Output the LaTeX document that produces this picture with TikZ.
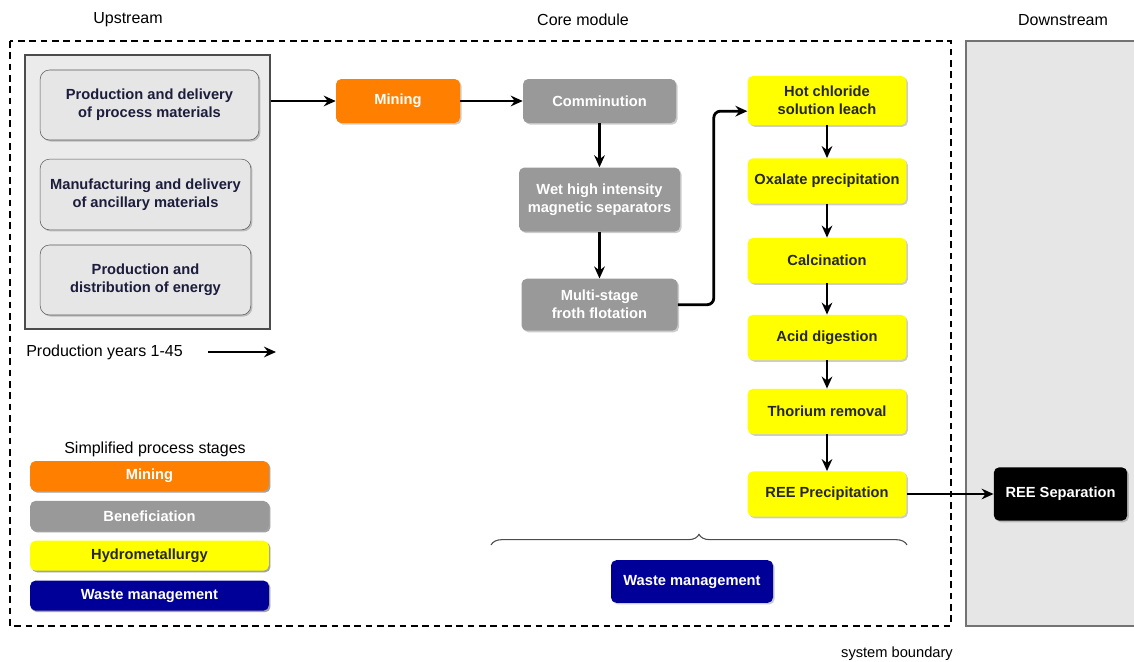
\documentclass[tikz,border=0pt]{standalone}
\usepackage{fontspec}
\setmainfont{Liberation Sans}
\usetikzlibrary{positioning,arrows.meta,shadows,decorations.pathreplacing}
\definecolor{minorange}{RGB}{255,128,0}
\definecolor{benegray}{RGB}{153,153,153}
\definecolor{hydroyellow}{RGB}{255,255,0}
\definecolor{wastenavy}{RGB}{0,0,153}
\definecolor{panelgray}{RGB}{230,230,230}
\definecolor{inktext}{RGB}{28,28,60}

\begin{document}
\begin{tikzpicture}[x=0.75pt,y=-0.75pt,node distance=25pt,
    every node/.style={font=\fontsize{11}{13.5}\selectfont},
    stage/.style={rounded corners=4pt,align=center,font=\fontsize{11}{13.5}\selectfont\bfseries,
      drop shadow={shadow xshift=1.2pt,shadow yshift=-1.2pt,fill=black,opacity=0.2}},
    mine/.style={stage,fill=minorange,text=white},
    bene/.style={stage,fill=benegray,text=white},
    hydro/.style={stage,fill=hydroyellow,text=black!85,minimum width=119pt,minimum height=34pt},
    waste/.style={stage,fill=wastenavy,text=white},
    upbox/.style={stage,draw=black!65,fill=panelgray,text=inktext,rounded corners=7pt},
    legend/.style={stage,minimum width=179pt,minimum height=22.5pt},
    flow/.style={-{Stealth[length=9pt,width=8pt,inset=3pt]},line width=2.1pt},
    plain/.style={font=\fontsize{12}{14}\selectfont,inner sep=0pt}]
  \useasboundingbox (0,0) rectangle (1134,661);

  % system boundary and downstream panel
  \draw[line width=1.7pt,dash pattern=on 5pt off 3.5pt] (10,41) rectangle (951,626);
  \fill[panelgray] (966,41) rectangle (1134,626);
  \draw[black!55,line width=0.8pt] (1134,41) -- (966,41) -- (966,626) -- (1134,626);

  \node[plain] (uplabel) at (128,20) {Upstream};
  \node[plain] (corelabel) at (583,20) {Core module};
  \node[plain] (downlabel) at (1063,20) {Downstream};
  \node[plain,font=\fontsize{11}{13}\selectfont] (boundary) at (897,654) {system boundary};

  % upstream
  \node[draw=black!70,line width=1pt,fill=panelgray!80,minimum width=183.75pt,minimum height=205.5pt] (upstream) at (147.5,192) {};
  \node[upbox,minimum width=164pt,minimum height=52.5pt] (procmat) at (149.5,105) {Production and delivery\\of process materials};
  \node[upbox,minimum width=158pt,minimum height=53pt] (ancmat) at (145.5,194.5) {Manufacturing and delivery\\of ancillary materials};
  \node[upbox,minimum width=158pt,minimum height=52.5pt] (energy) at (145.5,280) {Production and\\distribution of energy};

  \node[plain,anchor=west] (years) at (26,352) {Production years 1-45};
  \coordinate (yearsend) at (276,352);

  % core module
  \node[mine,minimum width=93pt,minimum height=33pt] (mining) at (398,101) {Mining};
  \node[bene,minimum width=114.75pt,minimum height=33pt] (comminution) at (599.5,101) {Comminution};
  \node[bene,minimum width=120.75pt,minimum height=48pt,below=33pt of comminution] (whims) {Wet high intensity\\magnetic separators};
  \node[bene,minimum width=117pt,minimum height=39pt,below=35pt of whims] (flotation) {Multi-stage\\froth flotation};

  \node[hydro,minimum height=37pt] (leach) at (827,100.5) {Hot chloride\\solution leach};
  \node[hydro] (oxalate) at (827,181) {Oxalate precipitation};
  \node[hydro] (calcination) at (827,260.5) {Calcination};
  \node[hydro] (digestion) at (827,337.5) {Acid digestion};
  \node[hydro] (thorium) at (827,411.5) {Thorium removal};
  \node[hydro] (reeprec) at (827,494) {REE Precipitation};

  \node[waste,minimum width=121.5pt,minimum height=32pt] (wastecore) at (692,581.5) {Waste management};
  \node[stage,fill=black,text=white,minimum width=100pt,minimum height=40pt] (reesep) at (1060.5,494) {REE Separation};

  \draw[black!70,line width=0.8pt,decorate,decoration={brace,amplitude=8pt}] (491,545) -- (907,545);

  % legend
  \node[plain] (legendtitle) at (155,449) {Simplified process stages};
  \node[legend,mine] (legmine) at (149.5,476) {Mining};
  \node[legend,bene,below=7pt of legmine] (legbene) {Beneficiation};
  \node[legend,hydro,minimum width=179pt,minimum height=22.5pt,below=7pt of legbene] (leghydro) {Hydrometallurgy};
  \node[legend,waste,below=7pt of leghydro] (legwaste) {Waste management};

  % flows
  \draw[flow] (upstream.east |- mining) -- (mining);
  \draw[flow] (mining) -- (comminution);
  \draw[flow] (comminution) -- (whims);
  \draw[flow] (whims) -- (flotation);
  \draw[flow,rounded corners=5pt] (flotation.east) -- ++(36,0) |- ([yshift=-8pt]leach.west);
  \foreach \a/\b in {leach/oxalate,oxalate/calcination,calcination/digestion,digestion/thorium,thorium/reeprec}
    \draw[flow] (\a) -- (\b);
  \draw[flow] (reeprec) -- (reesep);
  \draw[flow] ([xshift=19pt]years.east) -- (yearsend);
\end{tikzpicture}
\end{document}
